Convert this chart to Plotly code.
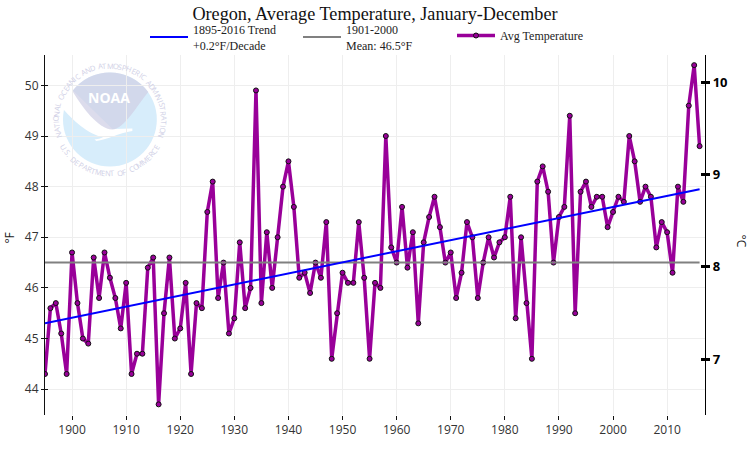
import numpy as np
import plotly.graph_objects as go

# ==============================
# DATA
# ==============================
years = list(range(1895, 2017))
avg_temp = [
    44.3, 45.6, 45.7, 45.1, 44.3, 46.7, 45.7, 45.0, 44.9, 46.6,
    45.8, 46.7, 46.2, 45.8, 45.2, 46.1, 44.3, 44.7, 44.7, 46.4,
    46.6, 43.7, 45.5, 46.6, 45.0, 45.2, 46.1, 44.3, 45.7, 45.6,
    47.5, 48.1, 45.8, 46.5, 45.1, 45.4, 46.9, 45.6, 46.0, 49.9,
    45.7, 47.1, 46.0, 47.0, 48.0, 48.5, 47.6, 46.2, 46.3, 45.9,
    46.5, 46.2, 47.3, 44.6, 45.5, 46.3, 46.1, 46.1, 47.3, 46.2,
    44.6, 46.1, 46.0, 49.0, 46.8, 46.5, 47.6, 46.4, 47.1, 45.3,
    46.9, 47.4, 47.8, 47.2, 46.5, 46.7, 45.8, 46.3, 47.3, 47.0,
    45.8, 46.5, 47.0, 46.6, 46.9, 47.0, 47.8, 45.4, 47.0, 45.7,
    44.6, 48.1, 48.4, 47.9, 46.5, 47.4, 47.6, 49.4, 45.5, 47.9,
    48.1, 47.6, 47.8, 47.8, 47.2, 47.5, 47.8, 47.7, 49.0, 48.5,
    47.7, 48.0, 47.8, 46.8, 47.3, 47.1, 46.3, 48.0, 47.7, 49.6,
    50.4, 48.8,
]
line_years = [1895, 2016]
trend_vals = [45.3, 47.95]
mean_vals = [46.5, 46.5]
f_ticks = [44, 45, 46, 47, 48, 49, 50]
c_ticks = [7, 8, 9, 10]
x_ticks = [1900, 1910, 1920, 1930, 1940, 1950, 1960, 1970, 1980, 1990, 2000, 2010]

# ==============================
# CONFIG
# ==============================
W, H = 750, 450
L, R, T, B = 44.5, 705.5, 55, 415
SERIF = "Liberation Serif"
SANS = "Open Sans"
LILAC = "rgba(208,208,230,0.75)"
SKY = "rgba(205,232,250,0.8)"
RING = "#d0d0e6"


def px(x, y):
    return (x - L) / (R - L), (B - y) / (B - T)


def path(*parts):
    # parts are command letters and pixel pairs, turned into paper coordinates
    out = []
    for p in parts:
        if isinstance(p, str):
            out.append(p)
        else:
            a, b = px(*p)
            out.append(f"{a:.5f},{b:.5f}")
    return " ".join(out)


def ring_text(text, cx, cy, r, start, end, bottom=False):
    # letters one by one along a circle, angles in degrees from the top (or bottom)
    narrow = {"I": 0.5, " ": 0.7, ".": 0.5, "M": 1.25}
    w = [narrow.get(c, 1.0) for c in text]
    pos = np.cumsum(w) - np.array(w) / 2
    pos = pos / sum(w)
    notes = []
    for c, f in zip(text, pos):
        if c == " ":
            continue
        ang = start + (end - start) * f
        rad = np.radians(ang)
        if bottom:
            x, y = cx + r * np.sin(rad), cy + r * np.cos(rad)
            rot = -ang
        else:
            x, y = cx + r * np.sin(rad), cy - r * np.cos(rad)
            rot = ang
        a, b = px(x, y)
        notes.append(dict(
            text=c, x=a, y=b, xref="paper", yref="paper", showarrow=False,
            xanchor="center", yanchor="middle", textangle=rot,
            font=dict(family=SANS, size=7.5, color=RING),
        ))
    return notes


# ==============================
# PLOT
# ==============================
fig = go.Figure()

fig.add_trace(go.Scatter(
    x=years, y=avg_temp, name="Avg Temperature", mode="lines+markers",
    line=dict(color="#990099", width=3.5),
    marker=dict(color="#990099", size=5, line=dict(color="#111111", width=1)),
    legend="legend2",
))
fig.add_trace(go.Scatter(
    x=line_years, y=mean_vals, name="1901-2000<br>Mean: 46.5°F", mode="lines",
    line=dict(color="#808080", width=2), legendrank=2,
))
fig.add_trace(go.Scatter(
    x=line_years, y=trend_vals, name="1895-2016 Trend<br>+0.2°F/Decade", mode="lines",
    line=dict(color="#0000ff", width=2), legendrank=1,
))
# nothing drawn, these only make plotly keep the extra axes
for ax in ["y2", "y3", "y4"]:
    fig.add_trace(go.Scatter(
        x=line_years, y=c_ticks[:2], mode="none", yaxis=ax,
        showlegend=False, hoverinfo="skip",
    ))

# NOAA LOGO
cx, cy, rad = 109.5, 119.5, 47
c0 = px(cx - rad, cy + rad)
c1 = px(cx + rad, cy - rad)
shapes = [
    dict(type="circle", xref="paper", yref="paper", layer="below",
         x0=c0[0], y0=c0[1], x1=c1[0], y1=c1[1],
         fillcolor=SKY, line_width=0),
    dict(type="path", xref="paper", yref="paper", layer="below", line_width=0,
         fillcolor="white",
         path=path("M", (60, 106), "L", (70, 88), "L", (112, 129),
                   "L", (132, 128.5), "L", (132, 131),
                   "C", (118, 133), (106, 140), (96, 141),
                   "L", (94, 139.5), "C", (99, 139), (101, 138), (103, 137),
                   "C", (88, 135), (72, 120), (60, 106), "Z")),
    dict(type="path", xref="paper", yref="paper", layer="below", line_width=0,
         fillcolor=LILAC,
         path=path("M", (72, 91), "C", (80.9, 79.3), (94.8, 72.5), (109.5, 72.5),
                   "C", (124.2, 72.5), (139.4, 80), (148, 92),
                   "C", (137, 105), (124, 129), (112, 129.5),
                   "C", (98, 129), (82, 108), (72, 91), "Z")),
]

notes = ring_text("NATIONAL OCEANIC AND ATMOSPHERIC ADMINISTRATION",
                  cx, cy, 54, -109, 109)
notes += ring_text("U.S. DEPARTMENT OF COMMERCE", cx, cy, 54, -62, 62, bottom=True)
nx, ny = px(109, 97.5)
notes.append(dict(text="<b>NOAA</b>", x=nx, y=ny, xref="paper", yref="paper",
                  showarrow=False, xanchor="center", yanchor="middle",
                  font=dict(family=SANS, size=14, color="white")))

# AXIS TITLES
fx, fy = px(8, 238)
notes.append(dict(text="°F", x=fx, y=fy, xref="paper", yref="paper", showarrow=False,
                  xanchor="center", yanchor="middle", textangle=-90,
                  font=dict(family=SANS, size=12, color="#222222")))
gx, gy = px(742, 241)
notes.append(dict(text="°C", x=gx, y=gy, xref="paper", yref="paper", showarrow=False,
                  xanchor="center", yanchor="middle", textangle=90,
                  font=dict(family=SANS, size=12, color="#222222")))

# LAYOUT
left_range = [43.49, 50.6]
right_range = [6.395, 10.297]
legend_font = dict(family=SERIF, size=12, color="#222222")

fig.update_layout(
    width=W, height=H,
    margin=dict(l=L, r=W - R, t=T, b=H - B, pad=0, autoexpand=False),
    plot_bgcolor="white", paper_bgcolor="white",
    title=dict(text="Oregon, Average Temperature, January-December",
               x=0.5, xanchor="center", y=1 - 14 / H, yanchor="middle",
               font=dict(family=SERIF, size=18.2, color="#111111")),
    showlegend=True,
    legend=dict(
        orientation="h", x=145 / W, xanchor="left", xref="container",
        y=1 - 15 / H, yanchor="top", yref="container",
        font=legend_font, itemwidth=38, entrywidth=100, entrywidthmode="pixels",
        bgcolor="rgba(0,0,0,0)",
    ),
    legend2=dict(
        orientation="h", x=452 / W, xanchor="left", xref="container",
        y=1 - 21 / H, yanchor="top", yref="container",
        font=legend_font, itemwidth=38,
        bgcolor="rgba(0,0,0,0)",
    ),
    xaxis=dict(
        range=[1895, 2017], tickvals=x_ticks, ticks="outside", ticklen=4,
        tickcolor="#111111", showline=False, zeroline=False,
        showgrid=True, gridcolor="#eeeeee", gridwidth=1,
        tickfont=dict(family=SANS, size=12, color="#333333"),
    ),
    yaxis=dict(
        range=left_range, tickvals=f_ticks, ticks="outside", ticklen=3,
        tickcolor="#111111", showline=True, linecolor="#111111", linewidth=1.2,
        zeroline=False, showgrid=True, gridcolor="#eeeeee", gridwidth=1,
        tickfont=dict(family=SANS, size=12, color="#333333"),
    ),
    # only the other half of the crossing ticks on the left
    yaxis3=dict(
        range=left_range, tickvals=f_ticks, ticks="inside", ticklen=3,
        tickcolor="#111111", overlaying="y", side="left", anchor="x",
        showticklabels=False, showgrid=False, zeroline=False, showline=False,
    ),
    yaxis2=dict(
        range=right_range, tickvals=c_ticks, ticks="outside", ticklen=4, tickwidth=3,
        tickcolor="#000000", overlaying="y", side="right", anchor="x",
        showline=True, linecolor="#000000", linewidth=1.2,
        showgrid=False, zeroline=False,
        tickfont=dict(family=SANS, size=13, color="#000000", weight="bold"),
    ),
    yaxis4=dict(
        range=right_range, tickvals=c_ticks, ticks="inside", ticklen=4, tickwidth=3,
        tickcolor="#000000", overlaying="y", side="right", anchor="x",
        showticklabels=False, showgrid=False, zeroline=False, showline=False,
    ),
    shapes=shapes,
    annotations=notes,
)

# the page's default 8px body margin would push the 750x450 figure out of the window
fig.write_html("out.html", config={"displayModeBar": False},
               post_script="document.body.style.margin='0';")
